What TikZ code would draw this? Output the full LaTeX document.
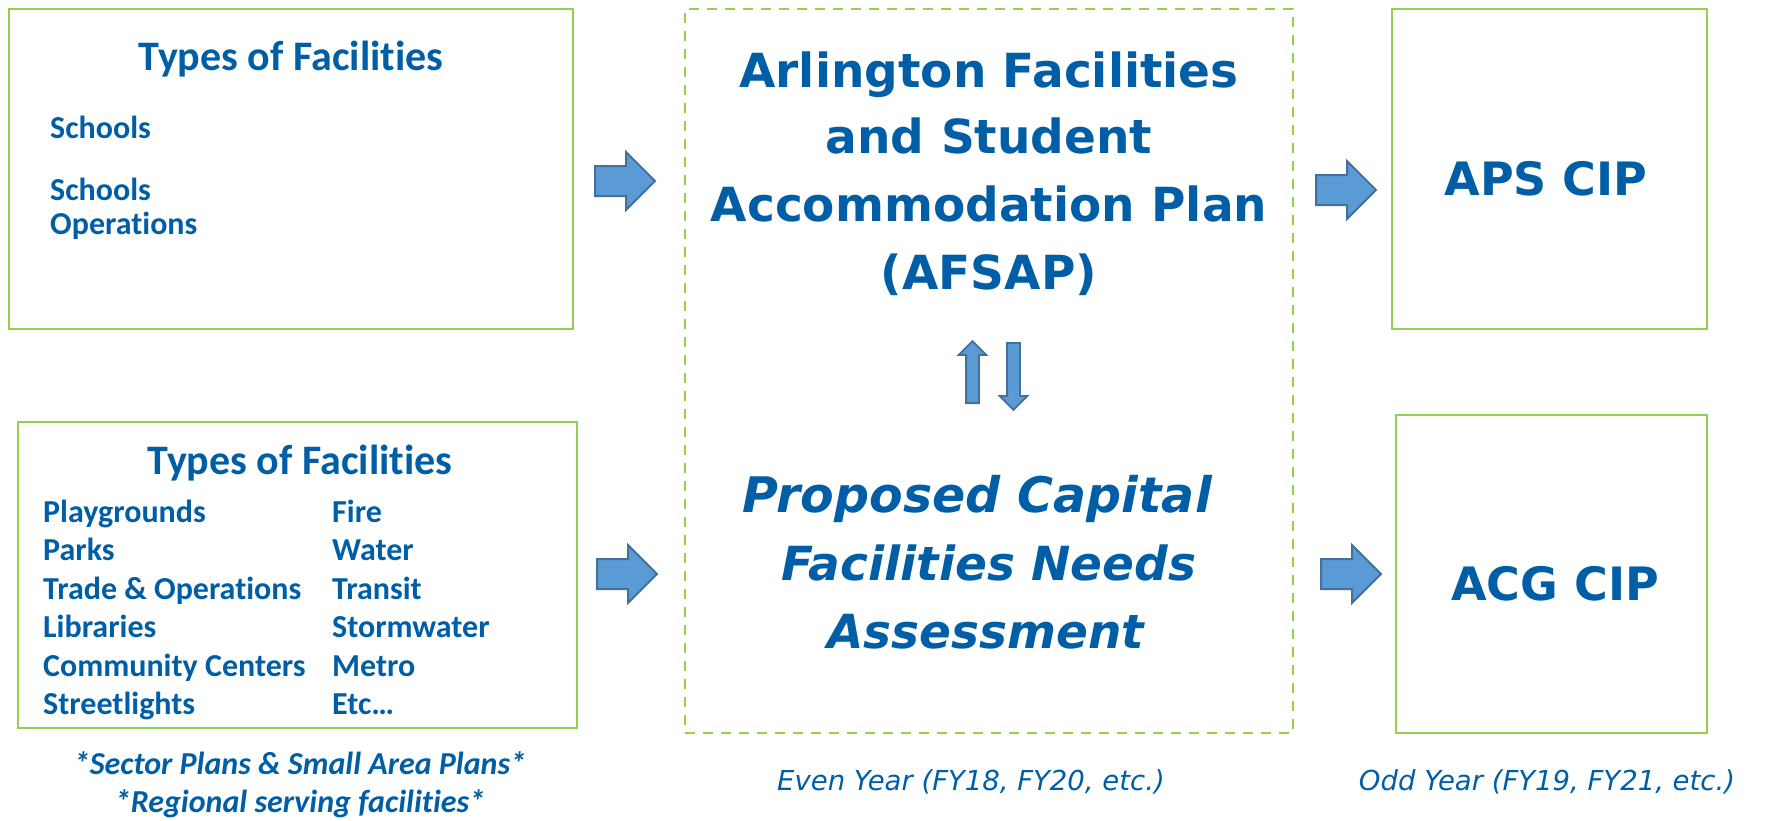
\documentclass[tikz,border=0pt]{standalone}
\usepackage{fontspec}
\usetikzlibrary{shapes.arrows}
\newfontfamily\calfont[Ligatures=NoCommon]{Carlito}
\newfontfamily\verfont{DejaVu Sans}
\definecolor{txtblue}{RGB}{0,94,166}
\definecolor{boxgreen}{RGB}{146,208,80}
\definecolor{arrowfill}{RGB}{91,155,213}
\definecolor{arrowline}{RGB}{65,113,156}
\tikzset{
  greenbox/.style={draw=boxgreen, line width=2.5pt, inner sep=0pt},
  dashbox/.style={draw=boxgreen, line width=2.5pt, dash pattern=on 10pt off 8pt, inner sep=0pt},
  blockarrow/.style={single arrow, draw=arrowline, fill=arrowfill, line width=2pt,
    inner sep=0pt, inner ysep=14pt, single arrow head extend=14pt, minimum height=60pt, anchor=tail},
  thinarrow/.style={single arrow, draw=arrowline, fill=arrowfill, line width=1.8pt,
    inner sep=0pt, inner ysep=5.5pt, single arrow head extend=7.5pt, anchor=tail},
  titletxt/.style={text=txtblue, inner sep=0pt, anchor=base, font=\calfont\bfseries\fontsize{42}{50}\selectfont},
  itemtxt/.style={text=txtblue, inner sep=0pt, anchor=base west, font=\calfont\bfseries\fontsize{32}{38}\selectfont},
  notetxt/.style={text=txtblue, inner sep=0pt, anchor=base, font=\calfont\bfseries\itshape\fontsize{32}{38}\selectfont},
  bigtxt/.style={text=txtblue, inner sep=0pt, anchor=base, font=\verfont\bfseries\fontsize{47}{56}\selectfont},
  bigittxt/.style={text=txtblue, inner sep=0pt, anchor=base, font=\verfont\bfseries\itshape\fontsize{47}{56}\selectfont},
  ciptxt/.style={text=txtblue, inner sep=0pt, anchor=base, font=\verfont\bfseries\fontsize{46}{56}\selectfont},
  yeartxt/.style={text=txtblue, inner sep=0pt, anchor=base, font=\verfont\itshape\fontsize{27.5}{32}\selectfont},
}
\begin{document}
\begin{tikzpicture}[x=1pt,y=-1pt]
\useasboundingbox (0,0) rectangle (1775,820);
% boxes
\node[greenbox, minimum width=564pt, minimum height=320pt] (box1) at (291,169) {};
\node[greenbox, minimum width=559pt, minimum height=306pt] (box2) at (297.5,575) {};
\node[dashbox, minimum width=608pt, minimum height=724pt] (center) at (989,371) {};
\node[greenbox, minimum width=315pt, minimum height=320pt] (aps) at (1549.5,169) {};
\node[greenbox, minimum width=311pt, minimum height=318pt] (acg) at (1551.5,574) {};
% block arrows
\node[blockarrow] (a1) at (594,181) {};
\node[blockarrow] (a2) at (596,574) {};
\node[blockarrow] (a3) at (1315,190) {};
\node[blockarrow] (a4) at (1320,574) {};
\node[thinarrow, rotate=90, minimum height=62pt] (up) at (972.5,404) {};
\node[thinarrow, rotate=-90, minimum height=67pt] (down) at (1013.5,342) {};
% box 1 text
\node[titletxt] (t1) at (291,70) {Types of Facilities};
\node[itemtxt] (s1) at (50,138) {Schools};
\node[itemtxt] (s2) at (50,200) {Schools};
\node[itemtxt] (s3) at (50,234) {Operations};
% box 2 text
\node[titletxt] (t2) at (300,474) {Types of Facilities};
\node[itemtxt] (l1) at (43,522) {Playgrounds};
\node[itemtxt] (l2) at (43,560) {Parks};
\node[itemtxt] (l3) at (43,599) {Trade \& Operations};
\node[itemtxt] (l4) at (43,637) {Libraries};
\node[itemtxt] (l5) at (43,676) {Community Centers};
\node[itemtxt] (l6) at (43,714) {Streetlights};
\node[itemtxt] (r1) at (332,522) {Fire};
\node[itemtxt] (r2) at (332,560) {Water};
\node[itemtxt] (r3) at (332,599) {Transit};
\node[itemtxt] (r4) at (332,637) {Stormwater};
\node[itemtxt] (r5) at (332,676) {Metro};
\node[itemtxt] (r6) at (332,714) {Etc\dots};
\node[notetxt] (n1) at (300,774) {*Sector Plans \& Small Area Plans*};
\node[notetxt] (n2) at (300,812) {*Regional serving facilities*};
% center text
\node[bigtxt] (c1) at (989,87) {Arlington Facilities};
\node[bigtxt] (c2) at (989,153) {and Student};
\node[bigtxt] (c3) at (989,221) {Accommodation Plan};
\node[bigtxt] (c4) at (989,289) {(AFSAP)};
\node[bigittxt, font=\verfont\bfseries\itshape\fontsize{49}{56}\selectfont] (p1) at (977,512) {Proposed Capital};
\node[bigittxt] (p2) at (989,580) {Facilities Needs};
\node[bigittxt] (p3) at (986,648) {Assessment};
\node[yeartxt] (ey) at (971,790) {Even Year (FY18, FY20, etc.)};
% right text
\node[ciptxt] (apst) at (1546,195) {APS CIP};
\node[ciptxt] (acgt) at (1555,600) {ACG CIP};
\node[yeartxt] (oy) at (1547,790) {Odd Year (FY19, FY21, etc.)};
\end{tikzpicture}
\end{document}
